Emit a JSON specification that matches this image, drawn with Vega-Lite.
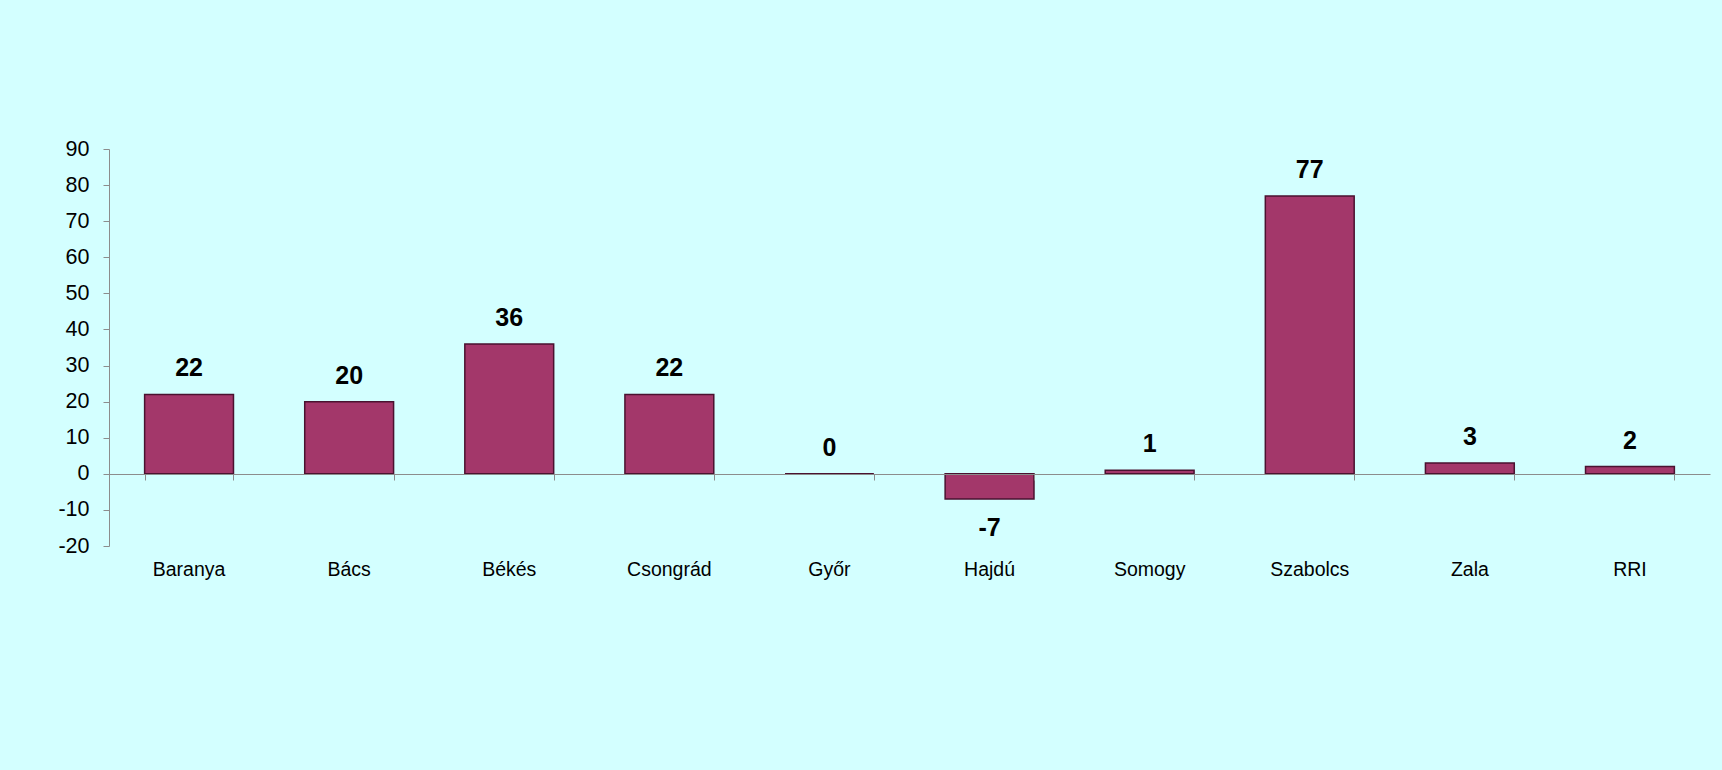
{
  "$schema": "https://vega.github.io/schema/vega-lite/v6.json",
  "autosize": {"type": "none"},
  "width": 1601,
  "height": 397,
  "padding": {"left": 109, "top": 149, "right": 12, "bottom": 224},
  "background": "#D3FFFF",
  "title": {
    "text": "A tárgyévi adatok megyénkénti alakulása",
    "font": "Liberation Serif",
    "fontSize": 20,
    "fontWeight": "bold",
    "color": "#000000",
    "anchor": "middle",
    "baseline": "alphabetic",
    "offset": 143,
    "dx": -19
  },
  "config": {
    "view": {"stroke": null},
    "axis": {"grid": false, "domainColor": "#8C8C8C", "tickColor": "#8C8C8C", "labelFont": "Liberation Sans", "labelColor": "#000000"}
  },
  "data": {
    "values": [
      {"megye": "Baranya", "value": 22},
      {"megye": "Bács", "value": 20},
      {"megye": "Békés", "value": 36},
      {"megye": "Csongrád", "value": 22},
      {"megye": "Győr", "value": 0},
      {"megye": "Hajdú", "value": -7},
      {"megye": "Somogy", "value": 1},
      {"megye": "Szabolcs", "value": 77},
      {"megye": "Zala", "value": 3},
      {"megye": "RRI", "value": 2}
    ]
  },
  "encoding": {
    "x": {
      "field": "megye",
      "type": "nominal",
      "sort": null,
      "scale": {"paddingInner": 0.445, "paddingOuter": 0.2225}
    },
    "y": {
      "field": "value",
      "type": "quantitative",
      "scale": {"domain": [-20, 90], "nice": false},
      "axis": {"title": null, "values": [-20, -10, 0, 10, 20, 30, 40, 50, 60, 70, 80, 90], "labelExpr": "replace(datum.label, '\u2212', '-')", "tickSize": 6, "labelPadding": 14, "labelFontSize": 21.5, "domain": true}
    }
  },
  "layer": [
    {
      "mark": {"type": "bar", "fill": "#A3376A", "stroke": "#4A1230", "strokeWidth": 1.5},
      "encoding": {
        "x": {"field": "megye", "type": "nominal", "sort": null, "axis": {"title": null, "labelAngle": 0, "domain": false, "ticks": false, "labelPadding": 14, "labelFontSize": 19.5}}
      }
    },
    {
      "transform": [{"filter": "datum.value >= 0"}],
      "mark": {"type": "text", "dy": -26, "baseline": "middle", "font": "Liberation Sans", "fontSize": 25, "fontWeight": "bold", "color": "#000000"},
      "encoding": {
        "x": {"field": "megye", "type": "nominal", "sort": null, "axis": {"title": null, "labels": false, "domain": true, "ticks": true, "tickBand": "extent", "tickSize": -6, "offset": -325, "zindex": 1}},
        "text": {"field": "value", "type": "nominal"}
      }
    },
    {
      "transform": [{"filter": "datum.value < 0"}],
      "mark": {"type": "text", "dy": 29, "baseline": "middle", "font": "Liberation Sans", "fontSize": 25, "fontWeight": "bold", "color": "#000000"},
      "encoding": {
        "x": {"field": "megye", "type": "nominal", "sort": null, "axis": null},
        "text": {"field": "value", "type": "nominal"}
      }
    }
  ],
  "resolve": {"axis": {"x": "independent"}}
}
